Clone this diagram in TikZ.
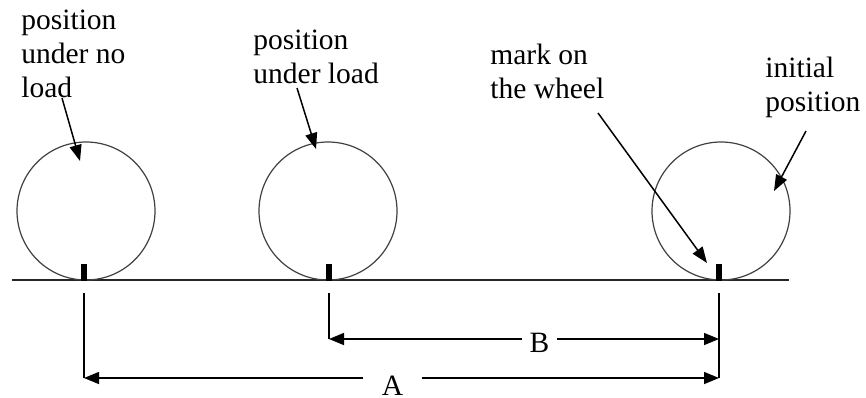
\documentclass[tikz,border=0pt]{standalone}
\usepackage{fontspec}
\setmainfont{Liberation Serif}
\usetikzlibrary{arrows.meta}
\begin{document}
\begin{tikzpicture}[x=0.5pt,y=-0.5pt,
  lbl/.style={anchor=base west, inner sep=0pt, align=left, font=\fontsize{14.75}{17}\selectfont},
  dimlbl/.style={anchor=base, inner ysep=0pt, font=\fontsize{14.75}{17}\selectfont},
  wheel/.style={circle, draw=black!75, line width=0.6pt, minimum size=69pt, inner sep=0pt},
  markbox/.style={rectangle, fill=black, minimum width=3pt, minimum height=8.5pt, inner sep=0pt},
  ptr/.style={line width=0.75pt, -{Triangle[length=8pt,width=6pt]}},
  dim/.style={line width=0.75pt},
  dimarrow/.style={line width=0.75pt, -{Triangle[length=7.5pt,width=6pt]}},
  ground/.style={line width=0.9pt, draw=black!85},
  ]
\useasboundingbox (0,0) rectangle (866,397);

% ground
\coordinate (g1) at (12,280);
\coordinate (g2) at (789,280);
\draw[ground] (g1) -- (g2);

% wheels
\node[wheel] (w1) at (86,211) {};
\node[wheel] (w2) at (328,211) {};
\node[wheel] (w3) at (721,211) {};

% marks
\node[markbox] (m1) at (84,272) {};
\node[markbox] (m2) at (329,272) {};
\node[markbox] (m3) at (719,272) {};

% labels (base anchor = baseline of the last line)
\node[lbl] (t1) at (21,97) {position\\under no\\load};
\node[lbl] (t2) at (253,83) {position\\under load};
\node[lbl] (t3) at (490,98) {mark on\\the wheel};
\node[lbl] (t4) at (765,111) {initial\\position};

% pointer arrows
\coordinate (p1s) at (62,98);  \coordinate (p1e) at (80,161);
\coordinate (p2s) at (297,88); \coordinate (p2e) at (316,149);
\coordinate (p3s) at (598,113); \coordinate (p3e) at (707,263);
\coordinate (p4s) at (806,131); \coordinate (p4e) at (774,191);
\draw[ptr] (p1s) -- (p1e);
\draw[ptr] (p2s) -- (p2e);
\draw[ptr] (p3s) -- (p3e);
\draw[ptr] (p4s) -- (p4e);

% dimension lines
\coordinate (v1t) at (84,293);  \coordinate (v1b) at (84,378);
\coordinate (v2t) at (329,293); \coordinate (v2b) at (329,339);
\coordinate (v3t) at (719,293); \coordinate (v3b) at (719,378);
\coordinate (v3m) at (719,339);
\draw[dim] (v1t) -- (v1b);
\draw[dim] (v2t) -- (v2b);
\draw[dim] (v3t) -- (v3b);

\node[dimlbl, inner xsep=3.8pt] (B) at (539.5,352) {B};
\node[dimlbl, inner xsep=9pt] (A) at (392.5,395) {A};

\draw[dimarrow] (B.west |- v2b) -- (v2b);
\draw[dimarrow] (B.east |- v3m) -- (v3m);
\draw[dimarrow] (A.west |- v1b) -- (v1b);
\draw[dimarrow] (A.east |- v3b) -- (v3b);
\end{tikzpicture}
\end{document}
